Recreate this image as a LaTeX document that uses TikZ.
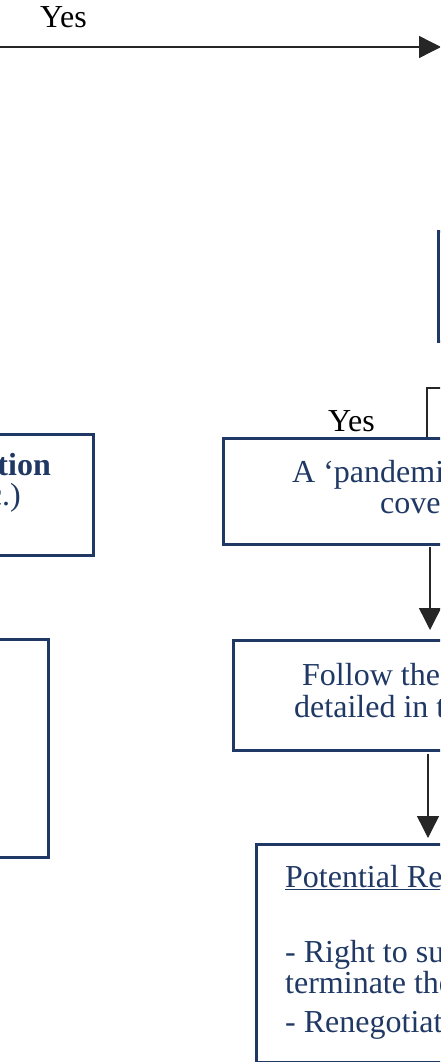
\documentclass[tikz,border=0pt]{standalone}
\usepackage{fontspec}
\setmainfont{Liberation Serif}
\usetikzlibrary{arrows.meta}
\definecolor{navy}{HTML}{1F3864}
\definecolor{ink}{HTML}{1F3864}
\begin{document}
\begin{tikzpicture}[x=1pt,y=-1pt,
  box/.style={draw=navy,line width=3pt,inner sep=0pt,anchor=north west},
  txt/.style={inner sep=0pt,anchor=base west,text=ink,font=\fontsize{32}{34}\selectfont},
  lbl/.style={inner sep=0pt,anchor=base west,text=black,font=\fontsize{32}{34}\selectfont},
  conn/.style={draw=black!85,line width=1.4pt},
  arr/.style={conn,-{Triangle[length=22pt,width=22pt]}}]
\useasboundingbox (0,0) rectangle (440,1062);
\clip (0,0) rectangle (440,1062);

% boxes
\node[box,minimum width=300pt,minimum height=110pt] (rbox) at (437,230) {};
\node[box,minimum width=200pt,minimum height=121pt] (lbox) at (-108,433) {};
\node[box,minimum width=200pt,minimum height=218pt] (lbox2) at (-153,638) {};
\node[box,minimum width=416pt,minimum height=106pt] (pand) at (222,437) {};
\node[box,minimum width=394pt,minimum height=110pt] (follow) at (232,639) {};
\node[box,minimum width=346pt,minimum height=218pt] (pot) at (255,843) {};

% texts
\node[lbl] (yes1) at (40,28) {Yes};
\node[lbl] (yes2) at (328,431) {Yes};
\node[txt,anchor=base east] (l1) at (51,475) {\textbf{Action}};
\node[txt,anchor=base east] (l2) at (21,505) {etc.)};
\node[txt] (p1) at (292,482) {A ‘pandemic’};
\node[txt] (p2) at (380,513) {covered};
\node[txt] (f1) at (302,685) {Follow the steps};
\node[txt] (f2) at (294,717) {detailed in the};
\node[txt] (r0) at (285,887) {\underline{Potential Remedies}};
\node[txt] (r1) at (285,962) {- Right to suspend};
\node[txt] (r2) at (285,993) {terminate the};
\node[txt] (r3) at (285,1032) {- Renegotiation};

% connectors
\coordinate (topstart) at (0,47);
\coordinate (topend) at (441,47);
\draw[arr] (topstart) -- (topend);

\coordinate (yesfrom) at (450,388);
\coordinate (yesturn) at (427,388);
\draw[conn] (yesfrom) -- (yesturn) -- (yesturn |- pand.north);

\coordinate (a1s) at (430,547);
\coordinate (a1e) at (430,630);
\draw[arr] (a1s) -- (a1e);
\coordinate (a2s) at (428,754);
\coordinate (a2e) at (428,838);
\draw[arr] (a2s) -- (a2e);
\end{tikzpicture}
\end{document}
